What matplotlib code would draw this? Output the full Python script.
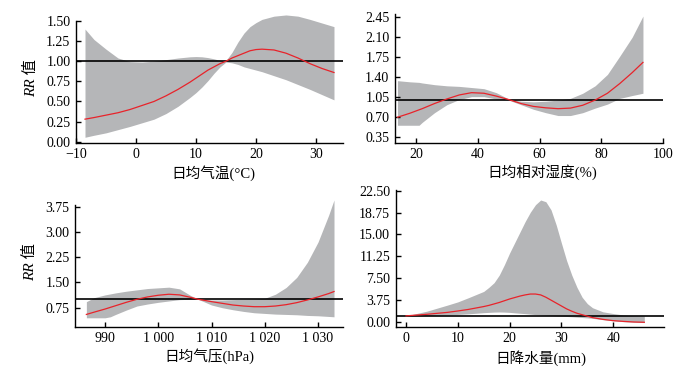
import matplotlib
matplotlib.use('Agg')
import matplotlib.pyplot as plt

plt.rcParams['font.family'] = ['Liberation Serif', 'Noto Sans CJK SC']
plt.rcParams['axes.unicode_minus'] = True

# ---- 日均气温 ----
temp_x = [-8.5, -7, -5, -3, -1, 1, 3, 5, 7, 9, 10, 11, 12, 13, 14, 15, 16, 17, 18, 19, 20, 21, 23, 25, 27, 29, 31, 33]
temp_rr = [0.28, 0.30, 0.33, 0.36, 0.40, 0.45, 0.50, 0.57, 0.65, 0.74, 0.79, 0.84, 0.89, 0.93, 0.97, 1.00, 1.04, 1.07, 1.10, 1.13,
           1.145, 1.15, 1.14, 1.10, 1.04, 0.97, 0.91, 0.86]
temp_hi = [1.40, 1.27, 1.15, 1.04, 0.995, 0.99, 1.00, 1.02, 1.04, 1.055, 1.058, 1.055, 1.045, 1.03, 1.01, 1.01, 1.11, 1.24,
           1.35, 1.43, 1.48, 1.52, 1.56, 1.575, 1.56, 1.52, 1.475, 1.43]
temp_lo = [0.055, 0.08, 0.11, 0.15, 0.19, 0.235, 0.28, 0.35, 0.44, 0.55, 0.61, 0.68, 0.76, 0.85, 0.93, 0.99, 0.98, 0.96,
           0.93, 0.91, 0.89, 0.87, 0.82, 0.77, 0.71, 0.65, 0.585, 0.52]

# ---- 日均相对湿度 ----
hum_x = [14, 18, 21, 22, 26, 30, 34, 38, 42, 46, 50, 54, 58, 62, 66, 70, 74, 78, 82, 86, 90, 93.5]
hum_rr = [0.69, 0.76, 0.82, 0.84, 0.93, 1.01, 1.08, 1.12, 1.11, 1.06, 1.00, 0.93, 0.88, 0.855, 0.84, 0.85, 0.90, 0.99,
          1.11, 1.28, 1.47, 1.65]
hum_hi = [1.33, 1.31, 1.30, 1.29, 1.26, 1.24, 1.23, 1.21, 1.19, 1.12, 1.01, 0.97, 0.96, 0.97, 0.99, 1.02, 1.11, 1.24,
          1.44, 1.76, 2.09, 2.46]
hum_lo = [0.55, 0.55, 0.55, 0.60, 0.77, 0.91, 1.00, 1.05, 1.05, 1.01, 0.99, 0.91, 0.83, 0.77, 0.72, 0.72, 0.77, 0.85,
          0.92, 1.02, 1.07, 1.11]

# ---- 日均气压 ----
pres_x = [986.5, 988, 990, 991, 992, 994, 996, 998, 1000, 1002, 1004, 1006, 1007.5, 1010, 1012, 1014, 1016, 1018,
          1020, 1022, 1024, 1026, 1028, 1030, 1032, 1033]
pres_rr = [0.55, 0.62, 0.71, 0.76, 0.81, 0.91, 1.00, 1.07, 1.12, 1.15, 1.13, 1.06, 1.00, 0.93, 0.88, 0.83, 0.80, 0.78,
           0.78, 0.80, 0.84, 0.90, 0.98, 1.07, 1.17, 1.23]
pres_hi = [0.93, 1.05, 1.13, 1.16, 1.19, 1.24, 1.28, 1.32, 1.34, 1.36, 1.31, 1.12, 1.00, 0.98, 0.98, 0.99, 1.00, 1.01,
           1.03, 1.15, 1.35, 1.65, 2.10, 2.70, 3.50, 3.95]
pres_lo = [0.45, 0.45, 0.45, 0.48, 0.55, 0.68, 0.80, 0.86, 0.91, 0.95, 0.99, 1.00, 1.00, 0.83, 0.75, 0.69, 0.64, 0.60,
           0.58, 0.56, 0.55, 0.54, 0.52, 0.51, 0.49, 0.48]

# ---- 日降水量 ----
rain_x = [0, 4, 8, 10, 12, 15, 16, 17, 18, 19, 20, 21, 22, 23, 24, 25, 26, 27, 28, 29, 30, 31, 32, 33, 34, 35, 36,
          38, 40, 42, 44, 46]
rain_rr = [1.0, 1.27, 1.6, 1.84, 2.1, 2.6, 2.8, 3.05, 3.3, 3.6, 3.9, 4.15, 4.4, 4.6, 4.75, 4.75, 4.6, 4.2, 3.7, 3.2,
           2.7, 2.2, 1.8, 1.45, 1.2, 0.95, 0.7, 0.4, 0.18, 0.05, -0.05, -0.1]
rain_hi = [1.0, 1.8, 2.85, 3.4, 4.1, 5.2, 5.9, 6.7, 8.0, 9.8, 11.8, 13.6, 15.4, 17.2, 18.8, 20.1, 20.9, 20.6, 19.2,
           16.6, 13.5, 10.5, 8.0, 5.9, 4.2, 3.1, 2.4, 1.7, 1.4, 1.15, 1.03, 0.98]
rain_lo = [1.0, 1.05, 1.15, 1.25, 1.35, 1.55, 1.6, 1.65, 1.67, 1.65, 1.6, 1.52, 1.45, 1.38, 1.3, 1.22, 1.15, 1.1, 1.05,
           1.0, 0.95, 0.9, 0.85, 0.78, 0.72, 0.65, 0.58, 0.35, 0.15, 0.0, -0.1, -0.15]

temp_xticks = [-10, 0, 10, 20, 30]
temp_xlabels = ['\u221210', '0', '10', '20', '30']
temp_yticks = [0, 0.25, 0.5, 0.75, 1.0, 1.25, 1.5]
hum_xticks = [20, 40, 60, 80, 100]
hum_yticks = [0.35, 0.70, 1.05, 1.40, 1.75, 2.10, 2.45]
pres_xticks = [990, 1000, 1010, 1020, 1030]
pres_xlabels = ['990', '1 000', '1 010', '1 020', '1 030']
pres_yticks = [0.75, 1.50, 2.25, 3.00, 3.75]
rain_xticks = [0, 10, 20, 30, 40]
rain_yticks = [0, 3.75, 7.50, 11.25, 15.00, 18.75, 22.50]

GRAY = '#b5b6b8'
RED = '#e8232a'

fig = plt.figure(figsize=(6.89, 3.67), dpi=100)


def panel(rect, x, rr, hi, lo, xlim, ylim, xticks, xlabels, yticks, xlabel, label_x, spine_top=None, ylabel=None):
    ax = fig.add_axes(rect)
    ax.fill_between(x, lo, hi, color=GRAY, lw=0, clip_on=False)
    ax.axhline(1.0, color='black', lw=1.2)
    ax.plot(x, rr, color=RED, lw=0.9, clip_on=False)
    ax.set_xlim(*xlim)
    ax.set_ylim(*ylim)
    for s in ['top', 'right']:
        ax.spines[s].set_visible(False)
    for s in ['left', 'bottom']:
        ax.spines[s].set_linewidth(1.0)
    if spine_top is not None:
        ax.spines['left'].set_bounds(ylim[0], spine_top)
    ax.set_xticks(xticks, xlabels if xlabels else [str(t) for t in xticks])
    ax.set_yticks(yticks, ['%.2f' % t for t in yticks])
    ax.tick_params(direction='in', length=3.5, width=1.0, labelsize=10, pad=4)
    ax.set_xlabel(xlabel, fontsize=10.5, labelpad=2)
    ax.xaxis.set_label_coords(label_x, -0.17)
    if ylabel:
        ax.set_ylabel(ylabel, fontsize=11, fontstyle='italic', labelpad=6)
    return ax


panel([0.1103, 0.6106, 0.3875, 0.3541], temp_x, temp_rr, temp_hi, temp_lo, (-10, 34.5), (-0.015, 1.6),
      temp_xticks, temp_xlabels, temp_yticks, '日均气温(°C)', 0.513, spine_top=1.5, ylabel='RR 值')
panel([0.5733, 0.6112, 0.389, 0.3512], hum_x, hum_rr, hum_hi, hum_lo, (13.2, 100), (0.245, 2.5),
      hum_xticks, None, hum_yticks, '日均相对湿度(%)', 0.55)
panel([0.1089, 0.1102, 0.389, 0.3495], pres_x, pres_rr, pres_hi, pres_lo, (984.37, 1034.7), (0.19, 4.0),
      pres_xticks, pres_xlabels, pres_yticks, '日均气压(hPa)', 0.50, spine_top=3.8, ylabel='RR 值')
panel([0.5743, 0.1098, 0.3894, 0.3738], rain_x, rain_rr, rain_hi, rain_lo, (-1.99, 49.8), (-0.86, 22.7),
      rain_xticks, None, rain_yticks, '日降水量(mm)', 0.54)

fig.savefig('out.png', dpi=100)
